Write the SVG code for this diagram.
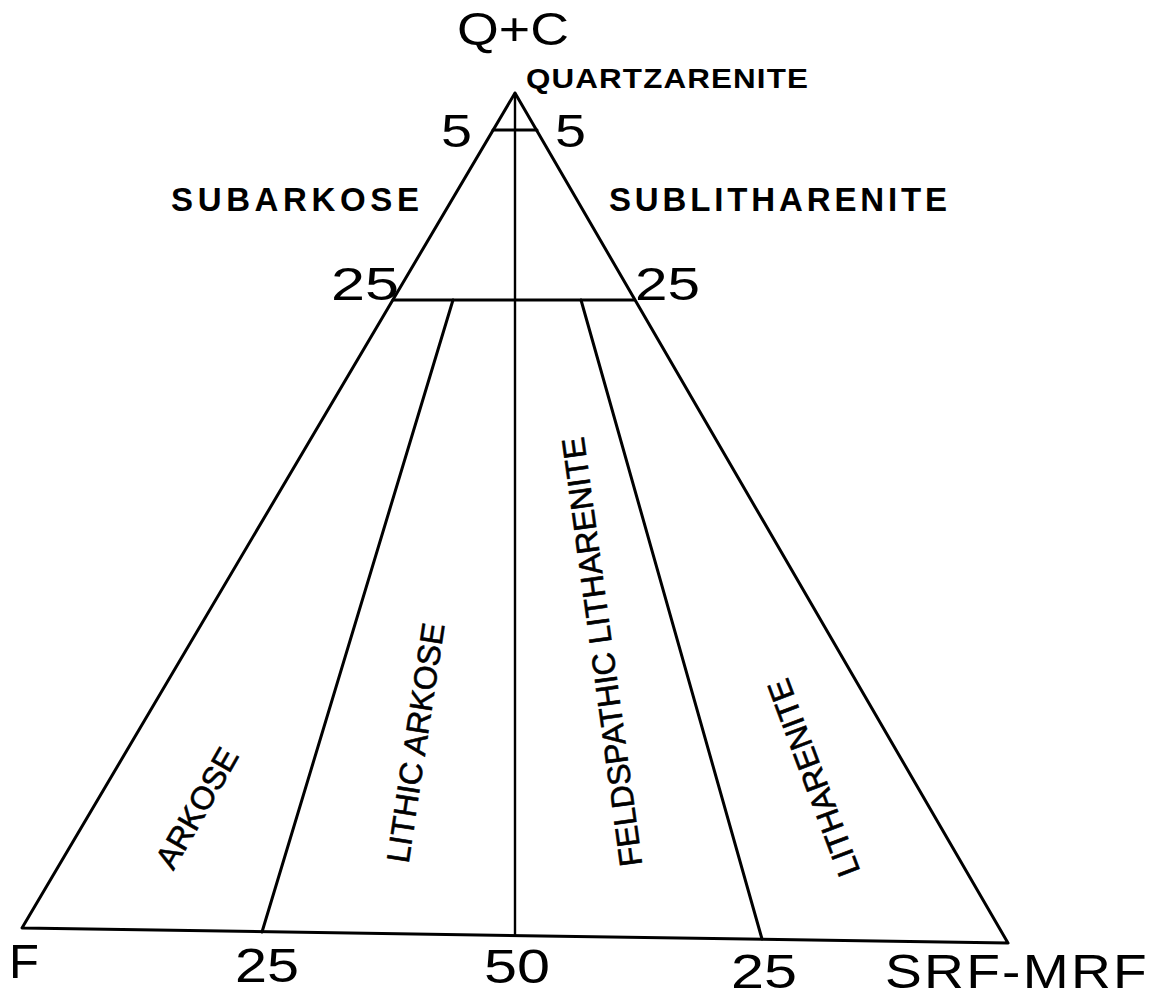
<svg xmlns="http://www.w3.org/2000/svg" width="1155" height="997" viewBox="0 0 1155 997">
<style>
.ln{stroke:#000;stroke-width:3;fill:none;stroke-linecap:round;stroke-linejoin:round}
.thin{stroke-width:2.4}
.t{font-family:"Liberation Sans",Arial,sans-serif;fill:#000}
.big{font-size:46px}
.bot{font-size:49px}
.lab{font-size:33px;font-weight:bold}
.rot{font-size:32px;stroke:#000;stroke-width:0.6}
</style>
<rect width="1155" height="997" fill="#fff"/>
<g id="connectors">
  <path class="ln" d="M22,928 L515,93 L1008,943 Z"/>
  <line class="ln thin" x1="515" y1="93" x2="515" y2="935"/>
  <line class="ln" x1="493" y1="130" x2="537" y2="130"/>
  <line class="ln" x1="393" y1="300" x2="634" y2="300"/>
  <line class="ln" x1="453" y1="300" x2="262" y2="932"/>
  <line class="ln" x1="581" y1="300" x2="762" y2="939"/>
</g>
<g id="apex-label"><text class="t big" x="457" y="45" textLength="112" lengthAdjust="spacingAndGlyphs">Q+C</text></g>
<g id="quartzarenite"><text class="t" x="526" y="88" font-size="28" font-weight="bold" letter-spacing="1" textLength="283" lengthAdjust="spacingAndGlyphs">QUARTZARENITE</text></g>
<g id="tick-5-left"><text class="t big" x="441" y="147" textLength="31" lengthAdjust="spacingAndGlyphs">5</text></g>
<g id="tick-5-right"><text class="t big" x="555" y="147" textLength="31" lengthAdjust="spacingAndGlyphs">5</text></g>
<g id="subarkose"><text class="t lab" x="171" y="211" textLength="248" lengthAdjust="spacing">SUBARKOSE</text></g>
<g id="sublitharenite"><text class="t lab" x="609" y="211" textLength="338" lengthAdjust="spacing">SUBLITHARENITE</text></g>
<g id="tick-25-left"><text class="t big" x="331" y="300" textLength="68" lengthAdjust="spacingAndGlyphs">25</text></g>
<g id="tick-25-right"><text class="t big" x="635" y="300" textLength="65" lengthAdjust="spacingAndGlyphs">25</text></g>
<g id="arkose"><text class="t rot" text-anchor="middle" transform="translate(206.5,813.5) rotate(-60.2)">ARKOSE</text></g>
<g id="lithic-arkose"><text class="t rot" text-anchor="middle" transform="translate(426.5,744.5) rotate(-81.4)">LITHIC  ARKOSE</text></g>
<g id="feldspathic-litharenite"><text class="t rot" text-anchor="middle" transform="translate(613,650.5) rotate(-97.8)">FELDSPATHIC LITHARENITE</text></g>
<g id="litharenite"><text class="t rot" text-anchor="middle" transform="translate(824,774) rotate(-110.6)">LITHARENITE</text></g>
<g id="corner-f"><text class="t bot" x="9" y="978">F</text></g>
<g id="tick-25-bottom-left"><text class="t bot" x="235" y="982" textLength="64" lengthAdjust="spacingAndGlyphs">25</text></g>
<g id="tick-50"><text class="t bot" x="484" y="983" textLength="66" lengthAdjust="spacingAndGlyphs">50</text></g>
<g id="tick-25-bottom-right"><text class="t bot" x="731" y="988" textLength="66" lengthAdjust="spacingAndGlyphs">25</text></g>
<g id="corner-srf-mrf"><text class="t bot" x="885" y="988" letter-spacing="2" textLength="264" lengthAdjust="spacingAndGlyphs">SRF-MRF</text></g>
</svg>
